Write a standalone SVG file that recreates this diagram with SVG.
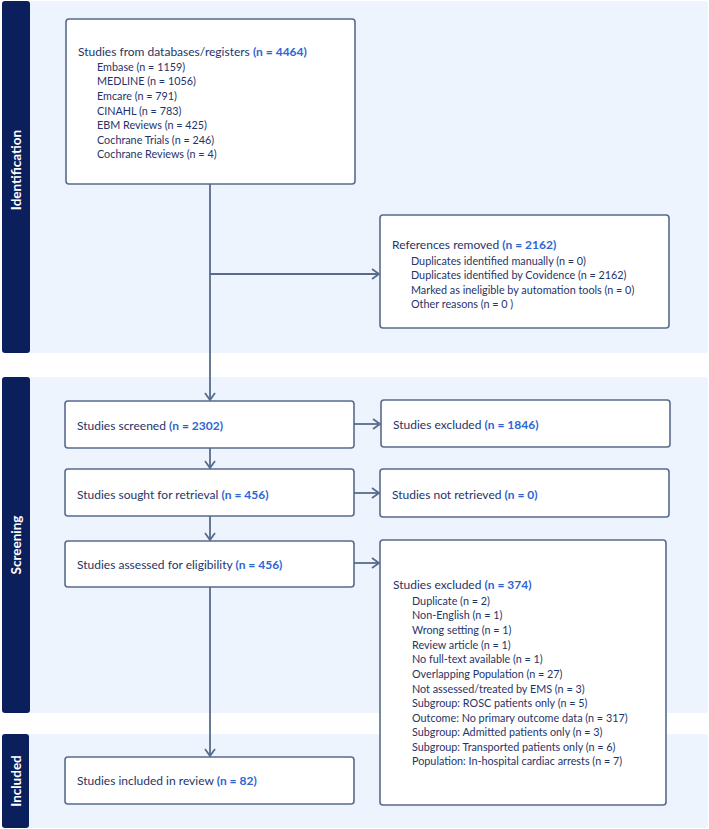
<svg xmlns="http://www.w3.org/2000/svg" width="709" height="829" viewBox="0 0 709 829">
<defs>
<style>
.panel{fill:#edf4fe}
.bar{fill:#0b1f5c}
.side{fill:#ffffff;font-family:Lato,"Liberation Sans",sans-serif;font-weight:bold;font-size:13.5px;text-anchor:middle}
.box{fill:#ffffff;stroke:#566b8e;stroke-width:1.6}
.t{fill:#1f3468;font-family:Lato,"Liberation Sans",sans-serif;font-size:12px}
.s{fill:#1f3468;font-family:Lato,"Liberation Sans",sans-serif;font-size:10.8px}
.n{fill:#2d66d4;font-weight:bold}
.c{fill:none;stroke:#566b8e;stroke-width:1.8}
</style>
<marker id="ah" markerUnits="userSpaceOnUse" markerWidth="12" markerHeight="12" refX="9" refY="6" orient="auto">
<path d="M2,1 L9,6 L2,11" fill="none" stroke="#566b8e" stroke-width="1.8"/>
</marker>
</defs>
<rect width="709" height="829" fill="#ffffff"/>
<g id="panels">
<rect class="panel" x="2" y="1" width="706" height="352" rx="3"/>
<rect class="bar" x="2" y="1" width="28" height="352" rx="3"/>
<text class="side" transform="translate(21,170) rotate(-90)">Identification</text>
<rect class="panel" x="2" y="377" width="706" height="336" rx="3"/>
<rect class="bar" x="2" y="377" width="28" height="336" rx="3"/>
<text class="side" transform="translate(21,545) rotate(-90)">Screening</text>
<rect class="panel" x="2" y="734" width="706" height="94" rx="3"/>
<rect class="bar" x="2" y="734" width="27" height="94" rx="3"/>
<text class="side" transform="translate(21,781) rotate(-90)">Included</text>
</g>
<g id="connectors">
<line class="c" x1="210" y1="184" x2="210" y2="400" marker-end="url(#ah)"/>
<line class="c" x1="210" y1="274" x2="379" y2="274" marker-end="url(#ah)"/>
<line class="c" x1="354" y1="424" x2="380" y2="424" marker-end="url(#ah)"/>
<line class="c" x1="354" y1="493" x2="379" y2="493" marker-end="url(#ah)"/>
<line class="c" x1="354" y1="563" x2="379" y2="563" marker-end="url(#ah)"/>
<line class="c" x1="210" y1="448" x2="210" y2="468" marker-end="url(#ah)"/>
<line class="c" x1="210" y1="516" x2="210" y2="540" marker-end="url(#ah)"/>
<line class="c" x1="210" y1="587" x2="210" y2="756" marker-end="url(#ah)"/>
</g>
<g id="databases">
<rect class="box" x="66" y="19" width="289" height="165" rx="3"/>
<text class="t" x="78" y="56">Studies from databases/registers <tspan class="n">(n = 4464)</tspan></text>
<text class="s" x="97" y="70.5">Embase (n = 1159)</text>
<text class="s" x="97" y="85">MEDLINE (n = 1056)</text>
<text class="s" x="97" y="100">Emcare (n = 791)</text>
<text class="s" x="97" y="114.5">CINAHL (n = 783)</text>
<text class="s" x="97" y="129">EBM Reviews (n = 425)</text>
<text class="s" x="97" y="143.5">Cochrane Trials (n = 246)</text>
<text class="s" x="97" y="158">Cochrane Reviews (n = 4)</text>
</g>
<g id="removed">
<rect class="box" x="380" y="215" width="289" height="113" rx="3"/>
<text class="t" x="392" y="249">References removed <tspan class="n">(n = 2162)</tspan></text>
<text class="s" x="411" y="264.5">Duplicates identified manually (n = 0)</text>
<text class="s" x="411" y="279">Duplicates identified by Covidence (n = 2162)</text>
<text class="s" x="411" y="294">Marked as ineligible by automation tools (n = 0)</text>
<text class="s" x="411" y="308">Other reasons (n = 0 )</text>
</g>
<g id="screened">
<rect class="box" x="65" y="401" width="289" height="47" rx="3"/>
<text class="t" x="77" y="430">Studies screened <tspan class="n">(n = 2302)</tspan></text>
</g>
<g id="excluded1">
<rect class="box" x="381" y="400" width="289" height="47" rx="3"/>
<text class="t" x="393" y="429">Studies excluded <tspan class="n">(n = 1846)</tspan></text>
</g>
<g id="sought">
<rect class="box" x="65" y="469" width="289" height="47" rx="3"/>
<text class="t" x="77" y="499">Studies sought for retrieval <tspan class="n">(n = 456)</tspan></text>
</g>
<g id="notretrieved">
<rect class="box" x="380" y="469" width="289" height="48" rx="3"/>
<text class="t" x="392" y="499">Studies not retrieved <tspan class="n">(n = 0)</tspan></text>
</g>
<g id="assessed">
<rect class="box" x="65" y="541" width="289" height="46" rx="3"/>
<text class="t" x="77" y="569">Studies assessed for eligibility <tspan class="n">(n = 456)</tspan></text>
</g>
<g id="excluded2">
<rect class="box" x="380" y="540" width="286" height="265" rx="3"/>
<text class="t" x="393" y="589">Studies excluded <tspan class="n">(n = 374)</tspan></text>
<text class="s" x="412" y="604.5">Duplicate (n = 2)</text>
<text class="s" x="412" y="619">Non-English (n = 1)</text>
<text class="s" x="412" y="634">Wrong setting (n = 1)</text>
<text class="s" x="412" y="648.5">Review article (n = 1)</text>
<text class="s" x="412" y="663">No full-text available (n = 1)</text>
<text class="s" x="412" y="678">Overlapping Population (n = 27)</text>
<text class="s" x="412" y="692.5">Not assessed/treated by EMS (n = 3)</text>
<text class="s" x="412" y="707">Subgroup: ROSC patients only (n = 5)</text>
<text class="s" x="412" y="721.5">Outcome: No primary outcome data (n = 317)</text>
<text class="s" x="412" y="736">Subgroup: Admitted patients only (n = 3)</text>
<text class="s" x="412" y="750.5">Subgroup: Transported patients only (n = 6)</text>
<text class="s" x="412" y="765">Population: In-hospital cardiac arrests (n = 7)</text>
</g>
<g id="included">
<rect class="box" x="65" y="757" width="289" height="47" rx="3"/>
<text class="t" x="77" y="785">Studies included in review <tspan class="n">(n = 82)</tspan></text>
</g>
</svg>
